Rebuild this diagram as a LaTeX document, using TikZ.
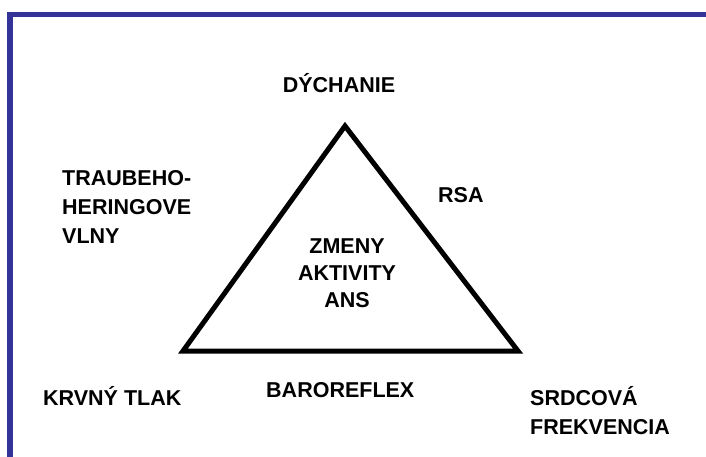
\documentclass[tikz,border=0pt]{standalone}
\usepackage{fontspec}
\setmainfont{Liberation Sans}
\definecolor{frameblue}{HTML}{333399}
\begin{document}
\begin{tikzpicture}[x=1pt,y=-1pt,
  lbl/.style={font=\fontsize{21.5}{27}\selectfont\bfseries, inner sep=0pt, align=left},
  lblc/.style={lbl, align=center},
  edge/.style={line width=5pt, line join=miter}]
\useasboundingbox (0,0) rectangle (706,457);
\fill[white] (0,0) rectangle (706,457);
% frame
\fill[frameblue] (7,12) rectangle (706,17.5);
\fill[frameblue] (7,12) rectangle (13,457);
% triangle
\coordinate (top) at (345,126);
\coordinate (bl) at (183,351);
\coordinate (br) at (518,351);
\draw[edge] (top) -- (br) -- (bl) -- cycle;
% labels (base anchor of multi-line nodes = last line baseline)
\node[lbl, anchor=base] (dych) at (339,93) {DÝCHANIE};
\node[lbl, anchor=base west] (rsa) at (438,202) {RSA};
\node[lblc, anchor=base] (ans) at (347,307) {ZMENY\\AKTIVITY\\ANS};
\node[lbl, anchor=base west, font=\fontsize{21.5}{29}\selectfont\bfseries] (th) at (62,243) {TRAUBEHO-\\HERINGOVE\\VLNY};
\node[lbl, anchor=base west] (kt) at (43,405) {KRVNÝ TLAK};
\node[lbl, anchor=base west] (baro) at (266,397) {BAROREFLEX};
\node[lbl, anchor=base west, font=\fontsize{21.5}{29}\selectfont\bfseries] (sf) at (530,434) {SRDCOVÁ\\FREKVENCIA};
\end{tikzpicture}
\end{document}
